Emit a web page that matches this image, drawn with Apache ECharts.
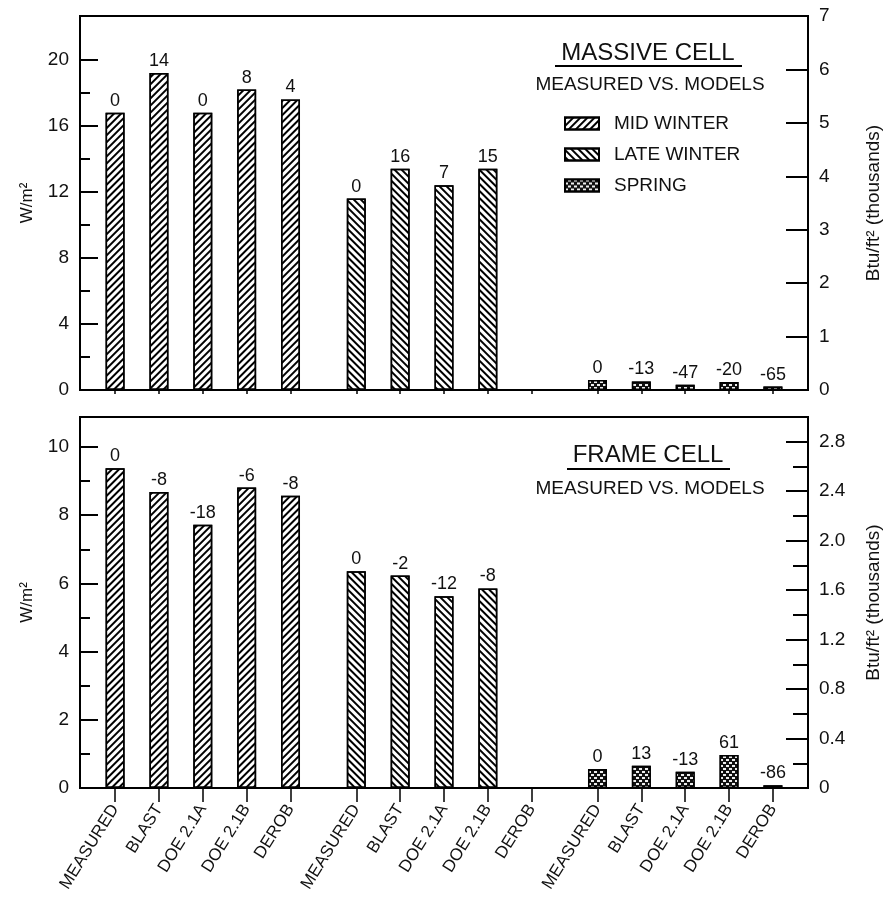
<!DOCTYPE html>
<html>
<head>
<meta charset="utf-8">
<script src="https://cdn.jsdelivr.net/npm/echarts@6/dist/echarts.min.js"></script>
<style>
html, body { margin: 0; padding: 0; background: #fff; }
#chart { width: 891px; height: 904px; }
</style>
</head>
<body>
<div id="chart"></div>
<script>
'use strict';

var models = ['MEASURED', 'BLAST', 'DOE 2.1A', 'DOE 2.1B', 'DEROB'];
var seasons = ['MID WINTER', 'LATE WINTER', 'SPRING'];

// massive cell, W/m2 (null = no bar)
var massive_mid = [16.8, 19.2, 16.8, 18.2, 17.6];
var massive_late = [11.6, 13.4, 12.4, 13.4, null];
var massive_spring = [0.6, 0.52, 0.32, 0.48, 0.21];
var massive_mid_pct = ['0', '14', '0', '8', '4'];
var massive_late_pct = ['0', '16', '7', '15', ''];
var massive_spring_pct = ['0', '-13', '-47', '-20', '-65'];

// frame cell, W/m2
var frame_mid = [9.38, 8.68, 7.72, 8.81, 8.57];
var frame_late = [6.36, 6.23, 5.62, 5.85, null];
var frame_spring = [0.56, 0.65, 0.48, 0.97, 0.08];
var frame_mid_pct = ['0', '-8', '-18', '-6', '-8'];
var frame_late_pct = ['0', '-2', '-12', '-8', ''];
var frame_spring_pct = ['0', '13', '-13', '61', '-86'];

// tick labels
var massive_left_ticks = [0, 4, 8, 12, 16, 20];
var massive_left_minor = [2, 6, 10, 14, 18];
var massive_right_ticks = [0, 1, 2, 3, 4, 5, 6, 7];
var frame_left_ticks = [0, 2, 4, 6, 8, 10];
var frame_left_minor = [1, 3, 5, 7, 9];
var frame_right_ticks = [0, 0.4, 0.8, 1.2, 1.6, 2.0, 2.4, 2.8];
var frame_right_minor = [0.2, 0.6, 1.0, 1.4, 1.8, 2.2, 2.6];

var FONT = 'Liberation Sans';
var INK = '#111';

function pos(g, i) {
    return g * 5.5 + i;
}

var positions = [];
var pos_names = {};
for (var g = 0; g < seasons.length; g++) {
    for (var i = 0; i < models.length; i++) {
        positions.push(pos(g, i));
        pos_names[pos(g, i).toFixed(1)] = models[i];
    }
}

var styles = [
    {   // mid winter  ////
        color: '#fff', borderColor: '#000', borderWidth: 1.5,
        decal: { symbol: 'rect', symbolSize: 1, dashArrayX: [1, 0], dashArrayY: [1.2, 3], rotation: -Math.PI / 4, color: '#000' }
    },
    {   // late winter  \\\\
        color: '#fff', borderColor: '#000', borderWidth: 1.5,
        decal: { symbol: 'rect', symbolSize: 1, dashArrayX: [1, 0], dashArrayY: [2, 2.5], rotation: Math.PI / 4, color: '#000' }
    },
    {   // spring  checks
        color: '#111', borderColor: '#000', borderWidth: 1.5,
        decal: { symbol: 'rect', symbolSize: 1, dashArrayX: [[3, 3], [0, 3, 3, 0]], dashArrayY: [2, 1], rotation: 0, color: '#eee' }
    }
];

function barSeries(season, g, values, pcts, grid, yIdx) {
    var data = [];
    for (var i = 0; i < values.length; i++) {
        if (values[i] == null) continue;
        data.push({ value: [pos(g, i), values[i]], pct: pcts[i] });
    }
    return {
        name: seasons[season],
        type: 'bar',
        xAxisIndex: grid,
        yAxisIndex: yIdx,
        barWidth: 19,
        barGap: '-100%',
        data: data,
        itemStyle: styles[season],
        emphasis: { disabled: true },
        label: {
            show: true,
            position: 'top',
            distance: 3,
            color: INK,
            fontFamily: FONT,
            fontSize: 18,
            formatter: function (p) { return p.data.pct; }
        }
    };
}

function tickAxis(grid, max, ticks, len, where) {
    return {
        type: 'value', gridIndex: grid, min: 0, max: max, position: where,
        axisLine: { show: false, onZero: false },
        axisLabel: { show: false },
        splitLine: { show: false },
        axisTick: { show: true, inside: true, length: len, customValues: ticks, lineStyle: { color: '#000', width: 2 } }
    };
}

function mainAxis(grid, max, ticks, len, where, name, gap, fmt) {
    var ax = tickAxis(grid, max, ticks, len, where);
    ax.axisLabel = {
        show: true, customValues: ticks, color: INK, fontFamily: FONT, fontSize: 19, margin: 11,
        formatter: fmt
    };
    ax.name = name;
    ax.nameLocation = 'middle';
    ax.nameRotate = 90;
    ax.nameGap = gap;
    ax.nameTextStyle = { color: INK, fontFamily: FONT, fontSize: where == 'left' ? 17 : 19 };
    return ax;
}

function xAxis(grid, tick_len, show_labels) {
    return {
        type: 'value', gridIndex: grid, min: -0.8, max: 15.8,
        axisLine: { show: false, onZero: false },
        splitLine: { show: false },
        axisTick: { show: true, customValues: positions, length: tick_len, lineStyle: { color: '#000', width: 1.5 } },
        axisLabel: {
            show: show_labels, customValues: positions, rotate: 58, margin: tick_len + 4,
            color: INK, fontFamily: FONT, fontSize: 17,
            formatter: function (v) { return pos_names[v.toFixed(1)] || ''; }
        }
    };
}

var left_massive_max = 22.66;
var right_massive_max = 7;
var left_frame_max = 10.88;
var right_frame_max = 3.0;

function txt(text, x, y, size) {
    return {
        type: 'text',
        style: { text: text, x: x, y: y, align: 'center', verticalAlign: 'middle', fill: INK, font: size + 'px "Liberation Sans"' }
    };
}

var chart = echarts.init(document.getElementById('chart'));

chart.setOption({
    backgroundColor: '#fff',
    animation: false,
    grid: [
        { left: 80, right: 81, top: 16, height: 374, show: true, borderColor: '#000', borderWidth: 2 },
        { left: 80, right: 81, top: 417, height: 371, show: true, borderColor: '#000', borderWidth: 2 }
    ],
    legend: {
        data: seasons,
        orient: 'vertical',
        left: 559,
        top: 109,
        itemWidth: 34,
        itemHeight: 12,
        itemGap: 12,
        selectedMode: false,
        icon: 'rect',
        textStyle: { color: INK, fontFamily: FONT, fontSize: 19, padding: [0, 0, 0, 10] }
    },
    xAxis: [xAxis(0, 4, false), xAxis(1, 14, true)],
    yAxis: [
        mainAxis(0, left_massive_max, massive_left_ticks, 18, 'left', 'W/m²', 44, null),
        tickAxis(0, left_massive_max, massive_left_minor, 10, 'left'),
        mainAxis(0, right_massive_max, massive_right_ticks, 22, 'right', 'Btu/ft² (thousands)', 56, null),
        mainAxis(1, left_frame_max, frame_left_ticks, 18, 'left', 'W/m²', 44, null),
        tickAxis(1, left_frame_max, frame_left_minor, 10, 'left'),
        mainAxis(1, right_frame_max, frame_right_ticks, 22, 'right', 'Btu/ft² (thousands)', 56,
            function (v) { return v === 0 ? '0' : v.toFixed(1); }),
        tickAxis(1, right_frame_max, frame_right_minor, 15, 'right')
    ],
    graphic: [
        txt('MASSIVE CELL', 648, 53, 24),
        { type: 'line', shape: { x1: 555, y1: 66, x2: 742, y2: 66 }, style: { stroke: '#000', lineWidth: 2 } },
        txt('MEASURED VS. MODELS', 650, 85, 19),
        txt('FRAME CELL', 648, 455, 24),
        { type: 'line', shape: { x1: 567, y1: 469, x2: 730, y2: 469 }, style: { stroke: '#000', lineWidth: 2 } },
        txt('MEASURED VS. MODELS', 650, 489, 19)
    ],
    series: [
        barSeries(0, 0, massive_mid, massive_mid_pct, 0, 0),
        barSeries(1, 1, massive_late, massive_late_pct, 0, 0),
        barSeries(2, 2, massive_spring, massive_spring_pct, 0, 0),
        barSeries(0, 0, frame_mid, frame_mid_pct, 1, 3),
        barSeries(1, 1, frame_late, frame_late_pct, 1, 3),
        barSeries(2, 2, frame_spring, frame_spring_pct, 1, 3)
    ]
});
</script>
</body>
</html>
